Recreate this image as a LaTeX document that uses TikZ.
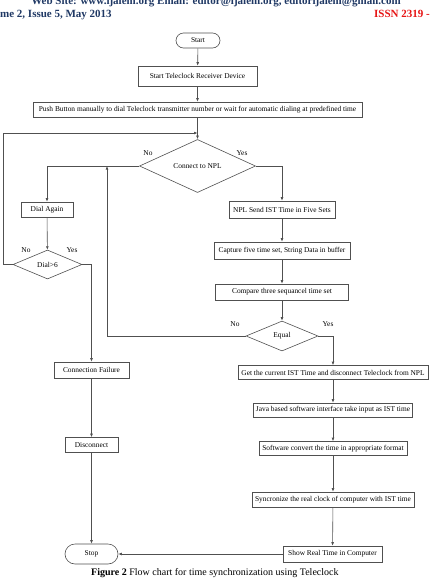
\documentclass[tikz,border=0pt]{standalone}
\usepackage{fontspec}
\setmainfont{Liberation Serif}
\usetikzlibrary{shapes.geometric, arrows.meta, positioning, calc}
\definecolor{hdrblue}{RGB}{31, 56, 100}
\definecolor{hdrred}{RGB}{230, 20, 20}
\definecolor{linegray}{RGB}{80, 80, 80}

\begin{document}
\begin{tikzpicture}[
        x=1pt, y=-1pt,
        block/.style={rectangle, draw=linegray, line width=0.6pt, minimum height=15pt, inner sep=1pt, align=center, font=\fontsize{7.4}{8.5}\selectfont},
        term/.style={block, rounded corners=7.5pt},
        decision/.style={diamond, draw=linegray, line width=0.6pt, inner sep=0pt, align=center, font=\fontsize{7.4}{8.5}\selectfont},
        lbl/.style={inner sep=0pt, font=\fontsize{7.4}{8.5}\selectfont},
        arrow/.style={-{Latex[length=3.5pt, width=2.8pt]}, draw=linegray, line width=0.6pt},
        line/.style={draw=linegray, line width=0.6pt}
    ]
        \useasboundingbox (0,0) rectangle (435,579);
        \clip (0,0) rectangle (435,579);

        % Header
        \node[anchor=base, text=hdrblue, font=\bfseries\fontsize{11}{12}\selectfont] (site) at (216,4.5) {Web Site: www.ijaiem.org Email: editor@ijaiem.org, editorijaiem@gmail.com};
        \node[anchor=base west, inner sep=0pt, text=hdrblue, font=\bfseries\fontsize{11}{12}\selectfont] (vol) at (0,17) {me 2, Issue 5, May 2013};
        \node[anchor=base east, inner sep=0pt, text=hdrred, font=\bfseries\fontsize{11}{12}\selectfont] (issn) at (430,17) {ISSN 2319 -};

        % Start
        \node[term, minimum width=44pt] (start) at (198,40.5) {Start};
        \node[block, minimum width=119pt, minimum height=20pt] (recv) at (197.5,76) {Start Teleclock Receiver Device};
        \node[block, minimum width=329pt] (push) at (197.5,109.5) {Push Button manually to dial Teleclock transmitter number or wait for automatic dialing at predefined time};

        % Connect decision
        \node[decision, minimum width=116pt, minimum height=30pt] (connect) at (197.5,166) {Connect to NPL};
        \node[lbl] (cno) at (148,153) {No};
        \node[lbl] (cyes) at (242,153) {Yes};

        % Dial branch
        \node[block, minimum width=52pt] (dial) at (47,209.5) {Dial Again};
        \node[decision, minimum width=69pt, minimum height=29pt] (dialsix) at (47.5,264.5) {Dial\textgreater6};
        \node[lbl] (dno) at (26,250) {No};
        \node[lbl] (dyes) at (72,250) {Yes};
        \node[block, minimum width=75pt, minimum height=16pt] (fail) at (91.5,370) {Connection Failure};
        \node[block, minimum width=53pt] (disc) at (91.5,445) {Disconnect};
        \node[term, minimum width=53pt, minimum height=20pt, rounded corners=10pt] (stop) at (91.5,554) {Stop};

        % NPL branch
        \node[block, minimum width=106pt, minimum height=17pt] (npl) at (282,209.5) {NPL Send IST Time in Five Sets};
        \node[block, minimum width=136pt, minimum height=17pt] (capture) at (282,250.5) {Capture five time set, String Data in buffer};
        \node[block, minimum width=133pt, minimum height=16pt] (compare) at (282,292) {Compare three sequancel time set};
        \node[decision, minimum width=72pt, minimum height=30pt] (equal) at (282,336) {Equal};
        \node[lbl] (eno) at (235,324) {No};
        \node[lbl] (eyes) at (328,324) {Yes};

        % Time handling
        \node[block, minimum width=190pt, minimum height=14pt] (get) at (333,372.5) {Get the current IST Time and disconnect Teleclock from NPL};
        \node[block, minimum width=159pt, minimum height=14pt] (java) at (333,410) {Java based software interface take input as IST time};
        \node[block, minimum width=148pt, minimum height=14pt] (soft) at (333,448.5) {Software convert the time in appropriate format};
        \node[block, minimum width=162pt] (sync) at (333,499.5) {Syncronize the real clock of computer with IST time};
        \node[block, minimum width=99pt, minimum height=16pt] (show) at (332.5,554) {Show Real Time in Computer};

        % Caption
        \node[anchor=base west, inner sep=0pt, font=\fontsize{10}{11}\selectfont] (caption) at (91,575) {\textbf{Figure 2} Flow chart for time synchronization using Teleclock};

        % Loop points
        \coordinate (jointop) at (197.5,133);
        \coordinate (leftrail) at (3,133);
        \coordinate (backjoin) at (107,166);

        \draw[arrow] (start) -- (recv);
        \draw[arrow] (recv) -- (push);
        \draw[arrow] (push) -- (connect);
        \draw[arrow] (connect.west) -| (dial.north);
        \draw[arrow] (connect.east) -| (npl.north);
        \draw[arrow] (dial) -- (dialsix);
        \draw[arrow] (dialsix.west) -| (leftrail) -- (jointop);
        \draw[arrow] (dialsix.east) -| (fail.north);
        \draw[arrow] (fail) -- (disc);
        \draw[arrow] (disc) -- (stop);
        \draw[arrow] (npl) -- (capture);
        \draw[arrow] (capture) -- (compare);
        \draw[arrow] (compare) -- (equal);
        \draw[arrow] (equal.west) -| (backjoin);
        \draw[arrow] (equal.east) -| (get.north);
        \draw[arrow] (get) -- (java);
        \draw[arrow] (java) -- (soft);
        \draw[arrow] (soft) -- (sync);
        \draw[arrow] (sync) -- (show);
        \draw[arrow] (show) -- (stop);
    \end{tikzpicture}
\end{document}
